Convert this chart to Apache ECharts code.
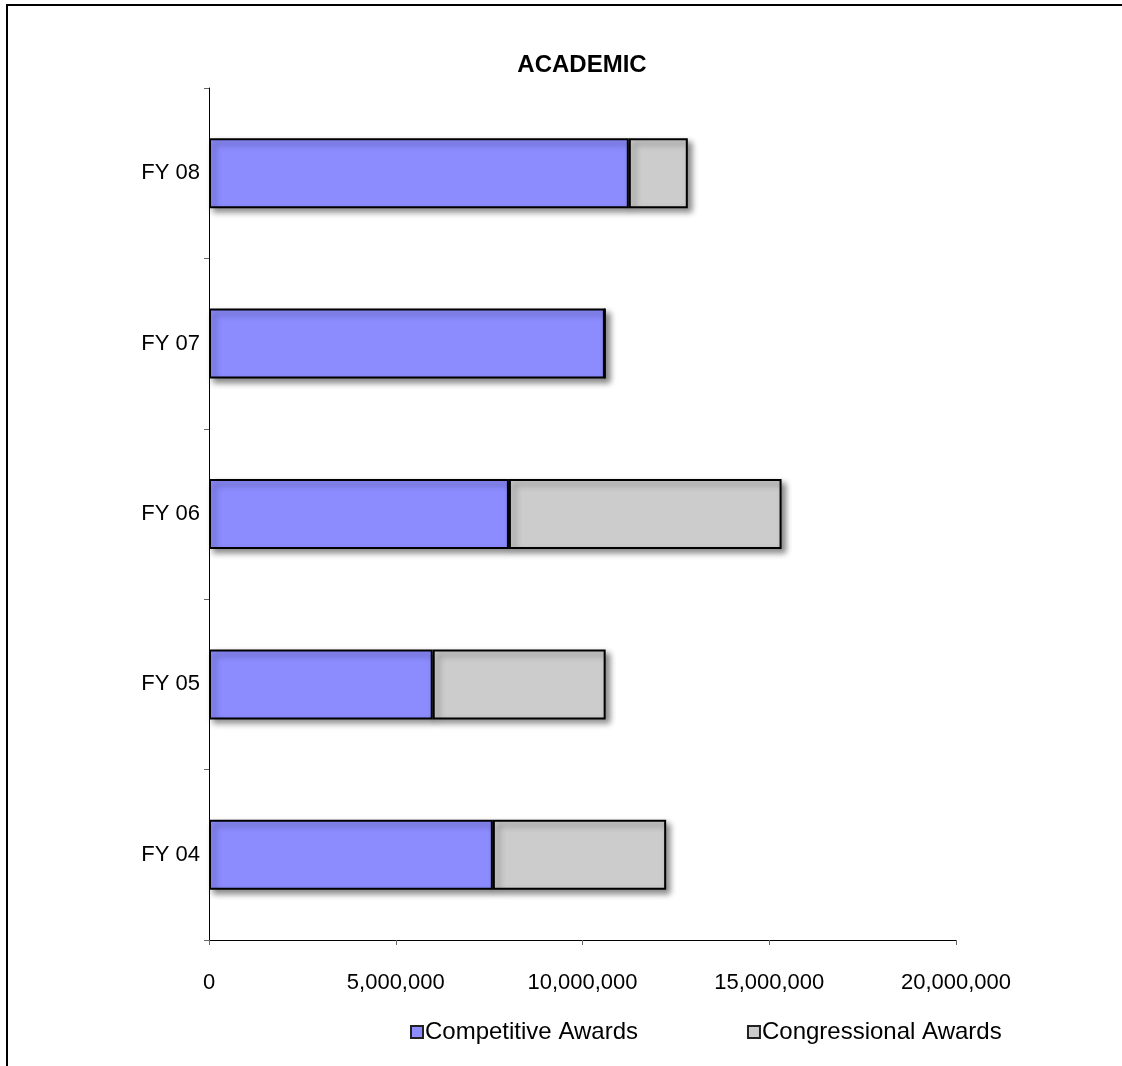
<!DOCTYPE html>
<html>
<head>
<meta charset="utf-8">
<script src="https://cdn.jsdelivr.net/npm/echarts@6/dist/echarts.min.js"></script>
<style>
  html, body { margin: 0; padding: 0; background: #fff; }
  #chart { width: 1122px; height: 1066px; }
</style>
</head>
<body>
<div id="chart"></div>
<script>
// fiscal years, bottom to top
const years = ["FY 04", "FY 05", "FY 06", "FY 07", "FY 08"];
const competitive = [7600000, 5990000, 8030000, 10600000, 11240000];
const congressional = [4640000, 4630000, 7300000, 0, 1580000];
const xTicks = [0, 5000000, 10000000, 15000000, 20000000];

const font = "'Liberation Sans', Arial, sans-serif";

const chart = echarts.init(document.getElementById("chart"));

const barStyle = (color) => ({
  color: color,
  borderColor: "#000",
  borderWidth: 2,
  shadowColor: "rgba(0,0,0,0.45)",
  shadowBlur: 6,
  shadowOffsetX: 4,
  shadowOffsetY: 4,
});

chart.setOption({
  animation: false,
  backgroundColor: "#fff",
  title: {
    text: "ACADEMIC",
    left: 577,
    textAlign: "center",
    top: 48,
    textStyle: { fontFamily: font, fontSize: 24, fontWeight: "bold", color: "#000" },
  },
  graphic: [
    {
      type: "rect",
      shape: { x: 7, y: 5, width: 1300, height: 1300 },
      style: { fill: "none", stroke: "#000", lineWidth: 2 },
      silent: true,
    },
  ],
  legend: {
    left: 405,
    top: 1015,
    itemGap: 109,
    itemWidth: 12,
    itemHeight: 12,
    icon: "rect",
    itemStyle: { borderColor: "#222", borderWidth: 2, shadowBlur: 0, shadowOffsetX: 0, shadowOffsetY: 0 },
    textStyle: { fontFamily: font, fontSize: 24, color: "#000", padding: [0, 0, 0, -3] },
    data: ["Competitive Awards", "Congressional Awards"],
  },
  grid: { left: 209, right: 166, top: 88, bottom: 126 },
  xAxis: {
    type: "value",
    min: 0,
    max: 20000000,
    interval: 5000000,
    splitLine: { show: false },
    axisLine: { show: true, lineStyle: { color: "#000", width: 1 } },
    axisTick: { show: true, length: 5, lineStyle: { color: "#666" } },
    axisLabel: {
      margin: 32,
      fontFamily: font,
      fontSize: 22,
      color: "#000",
      customValues: xTicks,
      formatter: (v) => v.toLocaleString("en-US"),
    },
  },
  yAxis: {
    type: "category",
    data: years,
    axisLine: { show: true, lineStyle: { color: "#000", width: 1 } },
    axisTick: { show: true, length: 5, lineStyle: { color: "#666" } },
    axisLabel: { margin: 9, fontFamily: font, fontSize: 22, color: "#000" },
  },
  series: [
    {
      name: "Competitive Awards",
      type: "bar",
      stack: "total",
      barWidth: 70,
      itemStyle: barStyle("#8c8cff"),
      data: competitive,
    },
    {
      name: "Congressional Awards",
      type: "bar",
      stack: "total",
      barWidth: 70,
      itemStyle: barStyle("#cccccc"),
      data: congressional,
    },
  ],
});
</script>
</body>
</html>
